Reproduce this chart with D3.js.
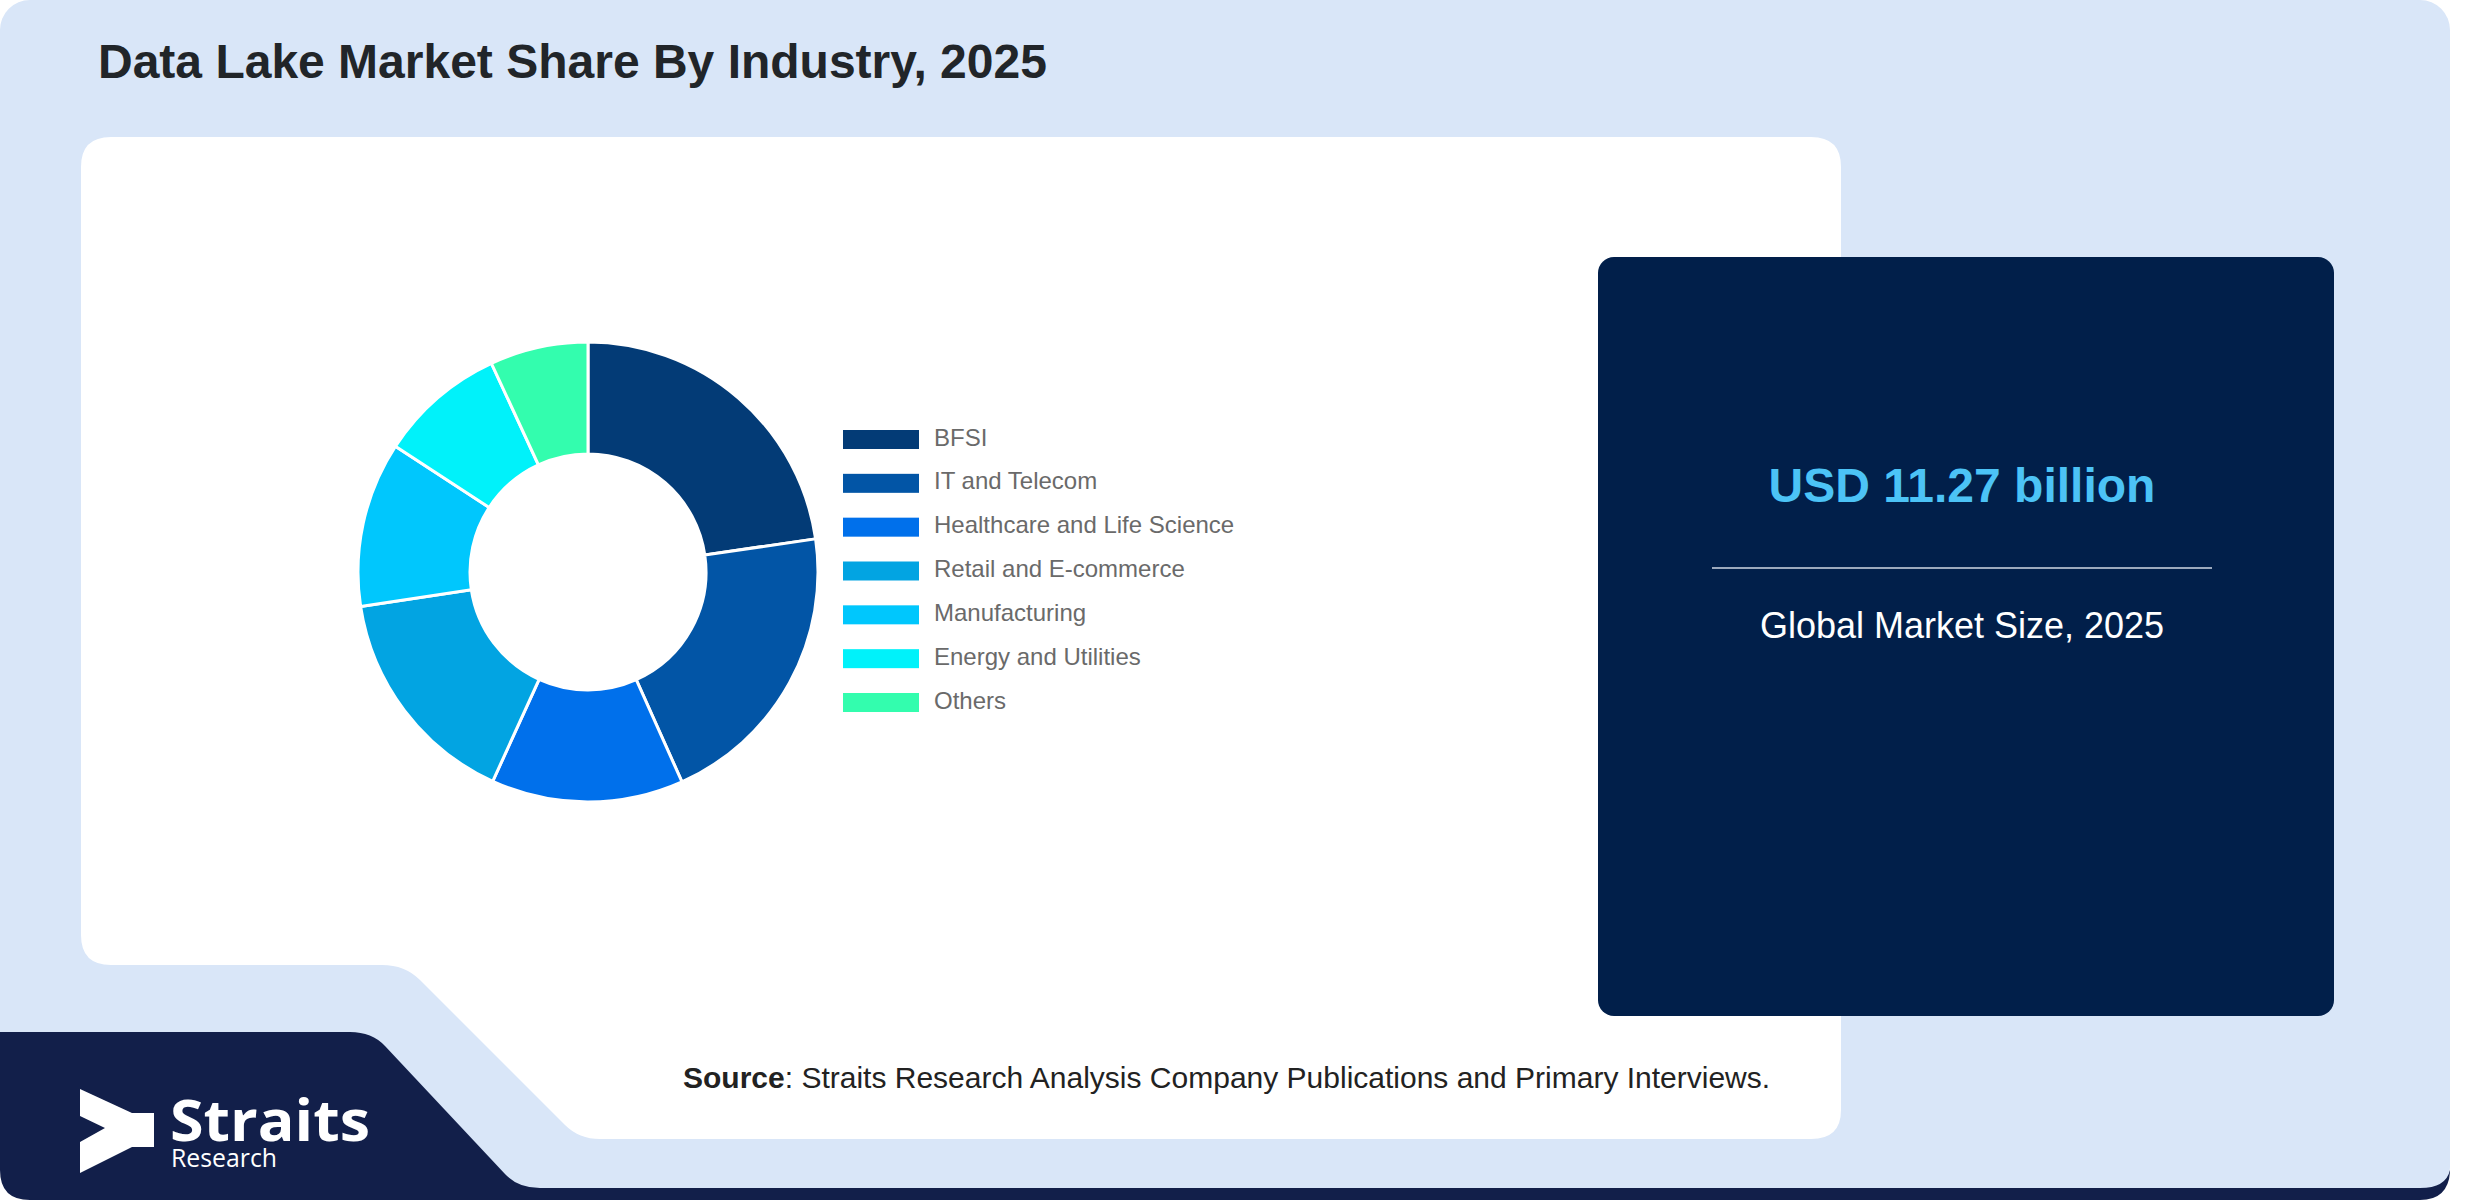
<!DOCTYPE html>
<html>
<head>
<meta charset="utf-8">
<script src="https://cdn.jsdelivr.net/npm/d3@7/dist/d3.min.js"></script>
<style>
  html, body { margin: 0; padding: 0; background: #ffffff; }
  svg { display: block; }
</style>
</head>
<body>
<svg id="chart" width="2480" height="1200"></svg>
<script>
// ---- Data ----
const categories = ["BFSI", "IT and Telecom", "Healthcare and Life Science", "Retail and E-commerce", "Manufacturing", "Energy and Utilities", "Others"];
const shares = [22.7, 20.6, 13.5, 15.8, 11.6, 8.9, 6.9];
const sliceColors = ["#033b76", "#0255a6", "#0070eb", "#02a4e2", "#00c7fd", "#00f2fa", "#33fdae"];
const titleText = "Data Lake Market Share By Industry, 2025";
const marketValue = "USD 11.27 billion";
const marketLabel = "Global Market Size, 2025";
const sourceLabel = "Source";
const sourceText = ": Straits Research Analysis Company Publications and Primary Interviews.";

const svg = d3.select("#chart");
const FONT = "'Liberation Sans', Arial, sans-serif";

// ---- Background card ----
svg.append("rect").attr("x", 0).attr("y", 0).attr("width", 2450).attr("height", 1197)
  .attr("rx", 30).attr("fill", "#d9e6f8");

// bottom navy band (under the card edge + logo area)
const navy = d3.path();
navy.moveTo(0, 1032);
navy.lineTo(350, 1032);
navy.quadraticCurveTo(372, 1032, 385, 1046);
navy.lineTo(505, 1174);
navy.quadraticCurveTo(518, 1188, 540, 1188);
navy.lineTo(2420, 1188);
navy.quadraticCurveTo(2446, 1188, 2450, 1170);
navy.lineTo(2450, 1172);
navy.quadraticCurveTo(2448, 1200, 2420, 1200);
navy.lineTo(30, 1200);
navy.quadraticCurveTo(0, 1200, 0, 1170);
navy.closePath();
svg.append("path").attr("d", navy.toString()).attr("fill", "#121f4a");

// white panel
const wp = d3.path();
wp.moveTo(111, 137);
wp.lineTo(1811, 137);
wp.quadraticCurveTo(1841, 137, 1841, 167);
wp.lineTo(1841, 1110);
wp.quadraticCurveTo(1841, 1139, 1811, 1139);
wp.lineTo(600, 1139);
wp.quadraticCurveTo(579, 1139, 565, 1125);
wp.lineTo(420, 980);
wp.quadraticCurveTo(405, 965, 382, 965);
wp.lineTo(111, 965);
wp.quadraticCurveTo(81, 965, 81, 935);
wp.lineTo(81, 167);
wp.quadraticCurveTo(81, 137, 111, 137);
wp.closePath();
svg.append("path").attr("d", wp.toString()).attr("fill", "#ffffff");

// navy stat box
svg.append("rect").attr("x", 1598).attr("y", 257).attr("width", 736).attr("height", 759)
  .attr("rx", 16).attr("fill", "#011f4a");

// ---- Title ----
svg.append("text").attr("x", 98).attr("y", 78)
  .attr("font-family", FONT).attr("font-weight", "bold").attr("font-size", 48)
  .attr("fill", "#212529").text(titleText);

// ---- Donut ----
const cx = 588, cy = 572, rOuter = 230, rInner = 118;
const color = d3.scaleOrdinal().domain(categories).range(sliceColors);
const pie = d3.pie().sort(null).value(d => d.value);
const arc = d3.arc().innerRadius(rInner).outerRadius(rOuter);
const data = categories.map((c, i) => ({ name: c, value: shares[i] }));

svg.append("g").attr("transform", `translate(${cx},${cy})`)
  .selectAll("path").data(pie(data)).join("path")
  .attr("d", arc)
  .attr("fill", d => color(d.data.name))
  .attr("stroke", "#ffffff").attr("stroke-width", 3);

// ---- Legend ----
const legendY = d3.scalePoint().domain(categories).range([430, 693]);
const lg = svg.append("g");
const rows = lg.selectAll("g").data(categories).join("g")
  .attr("transform", d => `translate(843,${legendY(d)})`);
rows.append("rect").attr("width", 76).attr("height", 19).attr("fill", d => color(d));
rows.append("text").attr("x", 91).attr("y", 15.5)
  .attr("font-family", FONT).attr("font-size", 24).attr("fill", "#6a6a6a")
  .text(d => d);

// ---- Stat box text ----
svg.append("text").attr("x", 1962).attr("y", 502).attr("text-anchor", "middle")
  .attr("font-family", FONT).attr("font-weight", "bold").attr("font-size", 48)
  .attr("fill", "#4cc3f6").text(marketValue);
svg.append("line").attr("x1", 1712).attr("x2", 2212).attr("y1", 568).attr("y2", 568)
  .attr("stroke", "#d0d8e4").attr("stroke-width", 1.6);
svg.append("text").attr("x", 1962).attr("y", 638).attr("text-anchor", "middle")
  .attr("font-family", FONT).attr("font-size", 36)
  .attr("fill", "#ffffff").text(marketLabel);

// ---- Source ----
const src = svg.append("text").attr("x", 683).attr("y", 1088)
  .attr("font-family", FONT).attr("font-size", 30).attr("fill", "#222222");
src.append("tspan").attr("font-weight", "bold").text(sourceLabel);
src.append("tspan").text(sourceText);

// ---- Logo ----
const logo = svg.append("g");
const icon = d3.path();
icon.moveTo(80, 1089);
icon.lineTo(132, 1113);
icon.lineTo(154, 1113);
icon.lineTo(154, 1147);
icon.lineTo(132, 1147);
icon.lineTo(80, 1173);
icon.lineTo(80, 1142);
icon.lineTo(105, 1128);
icon.lineTo(80, 1116);
icon.closePath();
logo.append("path").attr("d", icon.toString()).attr("fill", "#ffffff");
const logoText = logo.append("text")
  .attr("font-family", "'Open Sans', sans-serif").attr("fill", "#ffffff");
logoText.append("tspan").attr("x", 170).attr("y", 1141)
  .attr("font-weight", "bold").attr("font-size", 58)
  .attr("textLength", 200).attr("lengthAdjust", "spacingAndGlyphs")
  .text("Straits");
logoText.append("tspan").attr("x", 171).attr("y", 1167)
  .attr("font-weight", "normal").attr("font-size", 26)
  .attr("textLength", 106).attr("lengthAdjust", "spacingAndGlyphs")
  .text("Research");
</script>
</body>
</html>
